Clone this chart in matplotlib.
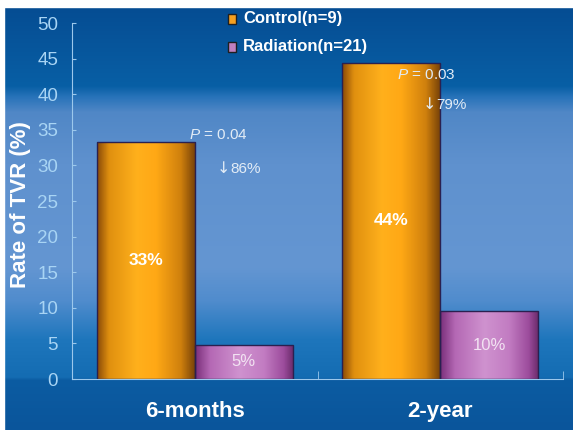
import numpy as np
import matplotlib
matplotlib.use("Agg")
import matplotlib.pyplot as plt
from matplotlib.colors import LinearSegmentedColormap
from matplotlib.patches import Rectangle

plt.rcParams["font.family"] = ["Liberation Sans", "DejaVu Sans"]
plt.rcParams["mathtext.fontset"] = "custom"
plt.rcParams["mathtext.it"] = "Liberation Sans:italic"
plt.rcParams["mathtext.rm"] = "Liberation Sans"

categories = ["6-months", "2-year"]
control = [33.3, 44.4]
radiation = [4.8, 9.5]
control_labels = ["33%", "44%"]
radiation_labels = ["5%", "10%"]
p_texts = ["= 0.04", "= 0.03"]
reductions = ["86%", "79%"]
legend_labels = ["Control(n=9)", "Radiation(n=21)"]
yticks = [0, 5, 10, 15, 20, 25, 30, 35, 40, 45, 50]

W, H = 573, 430
fig = plt.figure(figsize=(W / 100, H / 100), dpi=100)

# background gradient
bg = fig.add_axes([0, 0, 1, 1], zorder=-10)
bg.set_axis_off()
stops = [(0.0, (5, 75, 145)), (0.20, (8, 95, 165)), (0.225, (40, 115, 185)),
         (0.26, (80, 135, 198)), (0.38, (95, 145, 206)), (0.62, (100, 150, 210)),
         (0.70, (80, 140, 205)), (0.79, (30, 118, 188)), (0.878, (20, 108, 178)),
         (0.885, (12, 92, 162)), (1.0, (10, 85, 155))]
rows = np.linspace(0, 1, H)
img = np.zeros((H, 1, 3))
for c in range(3):
    img[:, 0, c] = np.interp(rows, [s[0] for s in stops], [s[1][c] / 255 for s in stops])
bg.imshow(img, aspect="auto", extent=[0, 1, 0, 1], origin="upper")
bg.set_xlim(0, 1)
bg.set_ylim(0, 1)
bg.add_patch(Rectangle((0, 1 - 7 / H), 1, 7 / H, color="white", zorder=5))
bg.add_patch(Rectangle((0, 0), 4 / W, 1, color="white", zorder=5))

ax = fig.add_axes([72 / W, 1 - 379 / H, (563 - 72) / W, (379 - 23) / H])
ax.patch.set_alpha(0)
x = np.arange(len(categories))
width = 0.4

orange_cm = LinearSegmentedColormap.from_list(
    "o", [(0, "#8a4a08"), (0.12, "#e0900f"), (0.4, "#ffb01c"), (0.6, "#ffa815"),
          (0.85, "#cf800d"), (1, "#744008")])
purple_cm = LinearSegmentedColormap.from_list(
    "p", [(0, "#7a2f7a"), (0.15, "#b468b4"), (0.45, "#cf92cf"), (0.7, "#c27cc2"),
          (0.9, "#9c4c9c"), (1, "#6a2a6a")])

def grad_bars(xs, vals, cmap):
    bars = ax.bar(xs, vals, width, color="none", edgecolor="#2a2050", linewidth=1.0, zorder=3)
    grad = np.linspace(0, 1, 200).reshape(1, -1)
    for b in bars:
        x0, y0 = b.get_x(), b.get_y()
        w, h = b.get_width(), b.get_height()
        im = ax.imshow(grad, cmap=cmap, aspect="auto", extent=[x0, x0 + w, y0, y0 + h],
                       zorder=2, origin="lower")
        im.set_clip_path(b)
    return bars

grad_bars(x - width / 2, control, orange_cm)
grad_bars(x + width / 2, radiation, purple_cm)
ax.set_xlim(-0.5, 1.5)
ax.set_ylim(0, 50)

for i in range(len(categories)):
    ax.text(x[i] - width / 2, control[i] * 0.5, control_labels[i], color="white",
            fontsize=12.5, fontweight="bold", ha="center", va="center", zorder=4)
    ax.text(x[i] + width / 2, radiation[i] * 0.5, radiation_labels[i], color="#f2e2f2",
            fontsize=12, ha="center", va="center", zorder=4)

# p-value annotations
ann = "#e2ecf6"
p_pos = [(-0.023, 34.3), (0.824, 42.7)]
r_pos = [(0.09, 29.5), (0.93, 38.5)]
for i in range(len(categories)):
    ax.text(p_pos[i][0], p_pos[i][1], "$P$ " + p_texts[i], color=ann, fontsize=11,
            ha="left", va="center", zorder=4)
    ax.text(r_pos[i][0], r_pos[i][1], "\u2193", color=ann, fontsize=11.5,
            family="DejaVu Sans", ha="left", va="center", zorder=4)
    ax.text(r_pos[i][0] + 0.055, r_pos[i][1], reductions[i], color=ann, fontsize=11,
            ha="left", va="center", zorder=4)

spc = "#9cc8ec"
for s in ["top", "right"]:
    ax.spines[s].set_visible(False)
ax.spines["left"].set_color(spc)
ax.spines["bottom"].set_color(spc)
ax.set_yticks(yticks)
ax.tick_params(axis="y", colors="#a8d4f4", labelsize=13.5, length=3, direction="in", pad=10)
ax.tick_params(axis="y", color=spc)
ax.set_xticks(x)
ax.set_xticklabels(categories, color="white", fontsize=16, fontweight="bold")
ax.tick_params(axis="x", length=0, pad=16)
ax.set_xticks([0.5, 1.5], minor=True)
ax.tick_params(axis="x", which="minor", length=6, direction="in", color=spc)
ax.set_ylabel("Rate of TVR (%)", color="white", fontsize=16, fontweight="bold")
ax.yaxis.set_label_coords(-0.083, 0.49)

# legend
fig.patches.append(Rectangle((228 / W, 1 - 24 / H), 8 / W, 10 / H, transform=fig.transFigure,
                             facecolor="#f5a020", edgecolor="#202020", linewidth=1))
fig.patches.append(Rectangle((228 / W, 1 - 52 / H), 8 / W, 10 / H, transform=fig.transFigure,
                             facecolor="#c080c0", edgecolor="#202020", linewidth=1))
fig.text(243 / W, 1 - 19 / H, legend_labels[0], color="white", fontsize=12, fontweight="bold",
         ha="left", va="center")
fig.text(243 / W, 1 - 47 / H, legend_labels[1], color="white", fontsize=12, fontweight="bold",
         ha="left", va="center")

fig.savefig("out.png", dpi=100)
